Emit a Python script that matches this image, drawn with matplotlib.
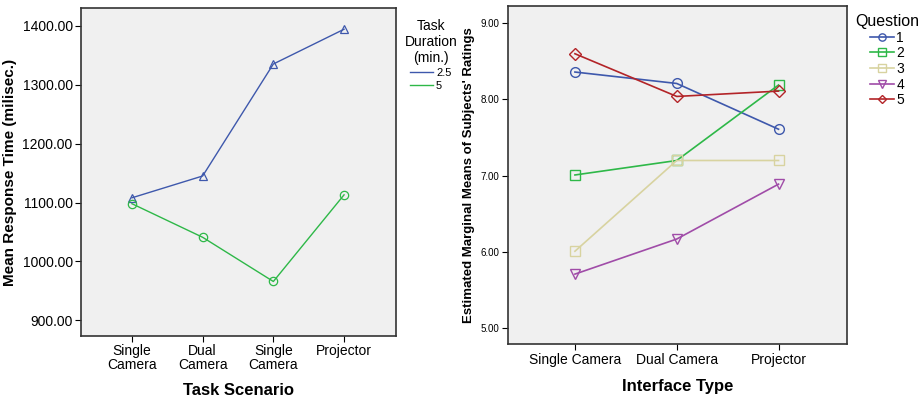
import matplotlib.pyplot as plt
from matplotlib.lines import Line2D

plt.rcParams['font.family'] = ['Liberation Sans', 'DejaVu Sans']

# left panel data
scenarios = ["Single\nCamera", "Dual\nCamera", "Single\nCamera", "Projector"]
rt_25 = [1108, 1145, 1335, 1394]
rt_5 = [1098, 1041, 966, 1113]
left_yticks = [900, 1000, 1100, 1200, 1300, 1400]

# right panel data
interfaces = ["Single Camera", "Dual Camera", "Projector"]
q1 = [8.36, 8.21, 7.61]
q2 = [7.01, 7.20, 8.19]
q3 = [6.01, 7.20, 7.20]
q4 = [5.71, 6.17, 6.89]
q5 = [8.60, 8.04, 8.11]
right_yticks = [5.0, 6.0, 7.0, 8.0, 9.0]

blue = "#3e58ac"
green = "#2eb848"
beige = "#d8d3a0"
purple = "#a04ca8"
red = "#b32428"
bg = "#f0f0f0"

fig = plt.figure(figsize=(9.24, 3.98), dpi=100)

ax1 = fig.add_axes([0.0877, 0.1565, 0.3405, 0.8226])
ax1.set_facecolor(bg)
x = list(range(len(scenarios)))
ax1.plot(x, rt_25, color=blue, lw=1, marker="^", ms=6, mfc="none", mec=blue, mew=0.9)
ax1.plot(x, rt_5, color=green, lw=1, marker="o", ms=6, mfc="none", mec=green, mew=0.9)
ax1.set_xlim(-0.72, 3.73)
ax1.set_ylim(874, 1429.5)
ax1.set_xticks(x)
ax1.set_xticklabels(scenarios, fontsize=10, linespacing=1.0)
ax1.set_yticks(left_yticks)
ax1.set_yticklabels(["%.2f" % v for v in left_yticks], fontsize=10)
ax1.set_ylabel("Mean Response Time (milisec.)", fontsize=11, fontweight="bold", labelpad=4)
ax1.set_xlabel("Task Scenario", fontsize=12, fontweight="bold", labelpad=8)
ax1.tick_params(length=4, width=0.8, pad=2)
for s in ax1.spines.values():
    s.set_linewidth(1.2)
    s.set_color("#333333")
h1 = [Line2D([], [], color=blue, lw=1), Line2D([], [], color=green, lw=1)]
leg1 = ax1.legend(h1, ["2.5", "5"], title="Task\nDuration\n(min.)", loc="upper left",
                  bbox_to_anchor=(1.0, 0.995), frameon=False, fontsize=8,
                  title_fontsize=10, handlelength=2.0, handletextpad=0.3,
                  labelspacing=0.25, borderaxespad=0.4)
leg1.get_title().set_multialignment("center")

ax2 = fig.add_axes([0.5495, 0.135, 0.3669, 0.8507])
ax2.set_facecolor(bg)
x2 = list(range(len(interfaces)))
series = [(q1, blue, "o", "1"), (q2, green, "s", "2"), (q3, beige, "s", "3"),
          (q4, purple, "v", "4"), (q5, red, "D", "5")]
for vals, c, m, lab in series:
    ax2.plot(x2, vals, color=c, lw=1.2, marker=m, ms=7 if m != "D" else 6,
             mfc="none", mec=c, mew=1.0, label=lab)
ax2.set_xlim(-0.66, 2.67)
ax2.set_ylim(4.79, 9.23)
ax2.set_xticks(x2)
ax2.set_xticklabels(interfaces, fontsize=10)
ax2.set_yticks(right_yticks)
ax2.set_yticklabels(["%.2f" % v for v in right_yticks], fontsize=7)
ax2.set_ylabel("Estimated Marginal Means of Subjects' Ratings", fontsize=9.5,
               fontweight="bold", labelpad=4)
ax2.set_xlabel("Interface Type", fontsize=12, fontweight="bold", labelpad=9)
ax2.tick_params(length=4, width=0.8, pad=2)
for s in ax2.spines.values():
    s.set_linewidth(1.2)
    s.set_color("#333333")
leg2 = ax2.legend(title="Question", loc="upper left", bbox_to_anchor=(1.0, 1.0),
                  frameon=False, fontsize=10, title_fontsize=11.5, handlelength=1.7,
                  handletextpad=0.2, labelspacing=0.12, borderaxespad=0.2,
                  markerscale=0.75)

fig.savefig("out.png", dpi=100)
